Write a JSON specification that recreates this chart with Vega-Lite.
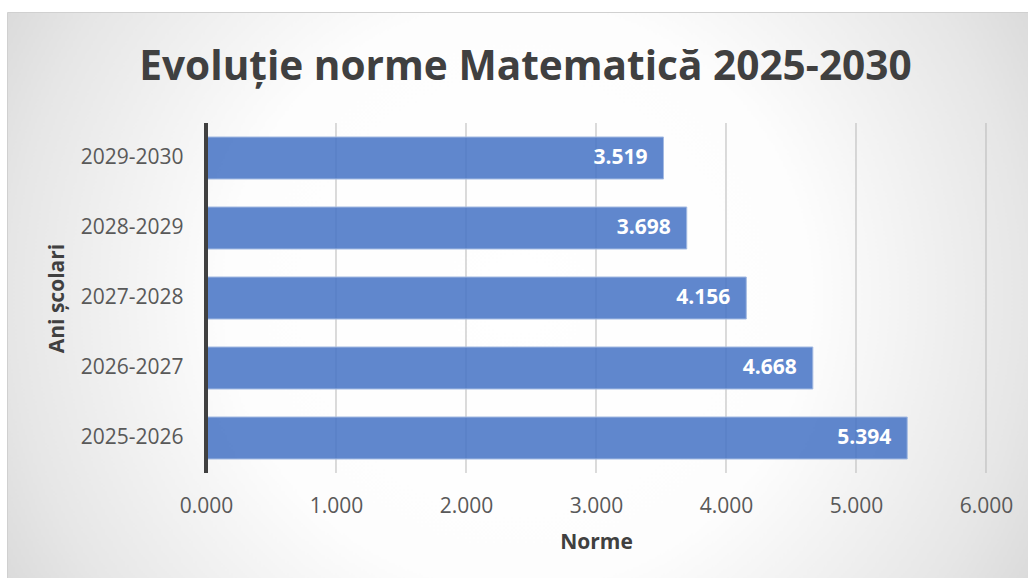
{
  "$schema": "https://vega.github.io/schema/vega-lite/v6.json",
  "width": 1021,
  "height": 566,
  "autosize": {"type": "none"},
  "padding": {"left": 7, "top": 12, "right": 0, "bottom": 0},
  "background": "#ffffff",
  "title": {
    "text": "Evoluție norme Matematică 2025-2030",
    "font": "Open Sans",
    "fontSize": 40.6,
    "fontWeight": "bold",
    "color": "#404040",
    "anchor": "middle",
    "frame": "group",
    "baseline": "alphabetic",
    "offset": 0,
    "dy": 109,
    "dx": 8
  },
  "data": {
    "values": [
      {"an": "2025-2026", "norme": 5.394},
      {"an": "2026-2027", "norme": 4.668},
      {"an": "2027-2028", "norme": 4.156},
      {"an": "2028-2029", "norme": 3.698},
      {"an": "2029-2030", "norme": 3.519}
    ]
  },
  "config": {
    "font": "Open Sans",
    "view": {
      "stroke": "#d0d0d0",
      "strokeWidth": 1,
      "fill": {
        "gradient": "radial",
        "x1": 0.5, "y1": 0.5, "r1": 0,
        "x2": 0.5, "y2": 0.5, "r2": 0.71,
        "stops": [
          {"offset": 0, "color": "#ffffff"},
          {"offset": 0.4, "color": "#fdfdfd"},
          {"offset": 0.7, "color": "#e6e6e6"},
          {"offset": 1, "color": "#c6c6c6"}
        ]
      }
    }
  },
  "layer": [
    {
      "data": {"values": [{"v": 1}, {"v": 2}, {"v": 3}, {"v": 4}, {"v": 5}, {"v": 6}]},
      "mark": {"type": "rule", "color": "#b8b8b8", "strokeWidth": 1},
      "encoding": {
        "x": {"field": "v", "type": "quantitative"},
        "y": {"datum": "2029-2030", "type": "nominal", "bandPosition": -0.3333},
        "y2": {"datum": "2025-2026", "bandPosition": 1.3333}
      }
    },
    {
      "mark": {
        "type": "bar",
        "fill": "#4472c4",
        "fillOpacity": 0.85,
        "stroke": "#a3bae2",
        "strokeWidth": 1
      },
      "encoding": {
        "y": {
          "field": "an",
          "type": "nominal",
          "scale": {
            "domain": ["2029-2030", "2028-2029", "2027-2028", "2026-2027", "2025-2026"],
            "range": [111, 461],
            "paddingInner": 0.4,
            "paddingOuter": 0.2
          },
          "axis": {
            "title": "Ani școlari",
            "titleFont": "Open Sans",
            "titleFontSize": 21,
            "titleFontWeight": "bold",
            "titleColor": "#404040",
            "titlePadding": 13,
            "labelFont": "Open Sans",
            "labelFontSize": 21,
            "labelColor": "#595959",
            "labelPadding": 23,
            "offset": -199,
            "ticks": false,
            "domain": false,
            "grid": false
          }
        },
        "x": {
          "field": "norme",
          "type": "quantitative",
          "scale": {"domain": [-1.53077, 6.32308], "nice": false, "zero": false},
          "axis": {
            "title": "Norme",
            "titleFont": "Open Sans",
            "titleFontSize": 21,
            "titleFontWeight": "bold",
            "titleColor": "#404040",
            "titlePadding": 15,
            "titleX": 589,
            "titleAlign": "center",
            "values": [0, 1, 2, 3, 4, 5, 6],
            "format": ".3f",
            "labelFont": "Open Sans",
            "labelFontSize": 21,
            "labelColor": "#595959",
            "labelPadding": 22,
            "labelFlush": false,
            "offset": -105,
            "ticks": false,
            "domain": false,
            "grid": false
          }
        }
      }
    },
    {
      "mark": {"type": "rule", "color": "#404040", "strokeWidth": 4},
      "encoding": {
        "x": {"datum": 0, "type": "quantitative"},
        "y": {"datum": "2029-2030", "type": "nominal", "bandPosition": -0.3333},
        "y2": {"datum": "2025-2026", "bandPosition": 1.3333}
      }
    },
    {
      "mark": {
        "type": "text",
        "align": "right",
        "baseline": "middle",
        "dx": -16,
        "color": "#ffffff",
        "font": "Open Sans",
        "fontWeight": "bold",
        "fontSize": 21
      },
      "encoding": {
        "y": {"field": "an", "type": "nominal"},
        "x": {"field": "norme", "type": "quantitative"},
        "text": {"field": "norme", "type": "quantitative", "format": ".3f"}
      }
    }
  ]
}
